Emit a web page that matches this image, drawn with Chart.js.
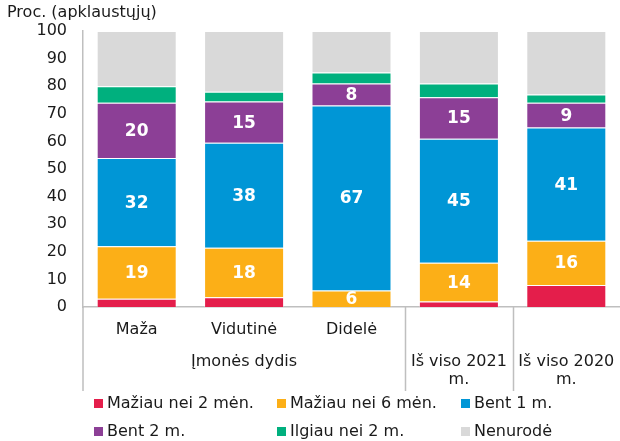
<!DOCTYPE html>
<html lang="lt">
<head>
<meta charset="utf-8">
<title>Proc. (apklaustųjų)</title>
<script src="https://cdn.jsdelivr.net/npm/chart.js@4/dist/chart.umd.min.js"></script>
<style>
  html, body { margin: 0; padding: 0; background: #fff; }
  #wrap { width: 620px; height: 441px; position: relative; }
</style>
</head>
<body>
<div id="wrap"><canvas id="chart" width="620" height="441"></canvas></div>
<script>
// Values (percent of respondents)
const categories = ['Maža', 'Vidutinė', 'Didelė', ['Iš viso 2021', 'm.'], ['Iš viso 2020', 'm.']];
const groupLabel = 'Įmonės dydis';
const groupSize = 3; // first three categories belong to the group

const seriesNames = ['Mažiau nei 2 mėn.', 'Mažiau nei 6 mėn.', 'Bent 1 m.', 'Bent 2 m.', 'Ilgiau nei 2 m.', 'Nenurodė'];
const lessThan2m = [3, 3.5, 0, 2, 8];
const lessThan6m = [19, 18, 6, 14, 16];
const atLeast1y = [32, 38, 67, 45, 41];
const atLeast2y = [20, 15, 8, 15, 9];
const over2y = [6, 3.5, 4, 5, 3];
const notSpecified = [20, 22, 15, 19, 23];

const yTicks = [0, 10, 20, 30, 40, 50, 60, 70, 80, 90, 100];
const yTitle = 'Proc. (apklaustųjų)';

const colors = ['#e41e4b', '#fcaf17', '#0096d6', '#8c3f96', '#00b07e', '#d9d9d9'];
const labelled = [1, 2, 3]; // datasets that show values inside the bars

const FONT = '"DejaVu Sans", Verdana, sans-serif';
const AXIS = '#bfbfbf';
const TEXT = '#1a1a1a';

const seriesData = [lessThan2m, lessThan6m, atLeast1y, atLeast2y, over2y, notSpecified];

// extra drawing: value labels, multi-level x labels, y title, legend
const decorations = {
  id: 'decorations',
  afterDatasetsDraw(chart) {
    const ctx = chart.ctx;
    ctx.save();
    ctx.font = 'bold 17px ' + FONT;
    ctx.fillStyle = '#fff';
    ctx.textAlign = 'center';
    ctx.textBaseline = 'middle';
    labelled.forEach(di => {
      const meta = chart.getDatasetMeta(di);
      meta.data.forEach((bar, i) => {
        const v = chart.data.datasets[di].data[i];
        if (!v) return;
        const p = bar.getProps(['x', 'y', 'base'], true);
        ctx.fillText(String(v), p.x, (p.y + p.base) / 2 + 1);
      });
    });
    ctx.restore();
  },
  afterDraw(chart) {
    const ctx = chart.ctx;
    const x = chart.scales.x;
    const area = chart.chartArea;
    const n = chart.data.labels.length;
    const step = (area.right - area.left) / n;
    const lineBottom = 391;

    ctx.save();
    // separators under the x axis
    ctx.strokeStyle = AXIS;
    ctx.lineWidth = 1.5;
    ctx.beginPath();
    ctx.moveTo(area.left, area.bottom);
    ctx.lineTo(area.left, lineBottom);
    [groupSize, groupSize + 1].forEach(k => {
      const sx = Math.round(area.left + k * step) + 0.5;
      ctx.moveTo(sx, area.bottom);
      ctx.lineTo(sx, lineBottom);
    });
    ctx.stroke();

    // category labels
    ctx.font = '16px ' + FONT;
    ctx.fillStyle = TEXT;
    ctx.textAlign = 'center';
    ctx.textBaseline = 'middle';
    chart.data.labels.forEach((lab, i) => {
      const cx = x.getPixelForValue(i);
      if (Array.isArray(lab)) {
        lab.forEach((line, j) => ctx.fillText(line, cx, 362 + j * 18));
      } else {
        ctx.fillText(lab, cx, 330);
      }
    });
    const gx = (area.left + area.left + groupSize * step) / 2;
    ctx.fillText(groupLabel, gx, 362);

    // y axis title
    ctx.textAlign = 'left';
    ctx.fillText(yTitle, 7, 13);

    // legend, three columns
    const colX = [94, 277, 461];
    const rowY = [404, 432];
    chart.data.datasets.forEach((ds, i) => {
      const cx = colX[i % 3];
      const cy = rowY[Math.floor(i / 3)];
      ctx.fillStyle = ds.backgroundColor;
      ctx.fillRect(cx, cy - 5, 9, 9);
      ctx.fillStyle = TEXT;
      ctx.fillText(ds.label, cx + 13, cy);
    });
    ctx.restore();
  }
};

new Chart(document.getElementById('chart'), {
  type: 'bar',
  data: {
    labels: categories,
    datasets: seriesNames.map((name, i) => ({
      label: name,
      data: seriesData[i],
      backgroundColor: colors[i],
      borderColor: 'rgba(255, 255, 255, 0.3)',
      borderWidth: 1,
      categoryPercentage: 1,
      barPercentage: 0.745
    }))
  },
  options: {
    responsive: false,
    animation: false,
    layout: { padding: { top: 31, right: 0, bottom: 0, left: 0 } },
    plugins: {
      legend: { display: false },
      tooltip: { enabled: false }
    },
    scales: {
      x: {
        stacked: true,
        grid: { display: false },
        border: { display: true, color: AXIS, width: 1.5 },
        ticks: { display: false },
        afterFit(scale) { scale.height = 134; }
      },
      y: {
        stacked: true,
        min: 0,
        max: 100,
        grid: { display: false, drawTicks: false },
        border: { display: true, color: AXIS, width: 1.5 },
        afterBuildTicks(scale) { scale.ticks = yTicks.map(v => ({ value: v })); },
        ticks: { padding: 16, color: TEXT, font: { family: FONT, size: 16 } },
        afterFit(scale) { scale.width = 83; }
      }
    }
  },
  plugins: [decorations]
});
</script>
</body>
</html>
